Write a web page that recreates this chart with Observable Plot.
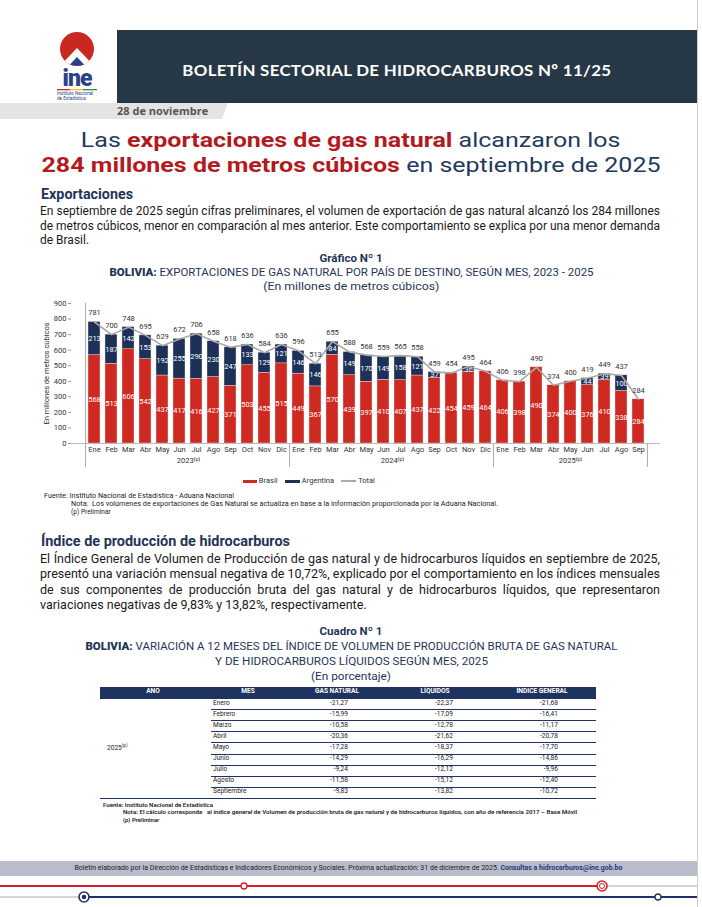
<!DOCTYPE html>
<html><head><meta charset="utf-8">
<script src="https://cdn.jsdelivr.net/npm/d3@7"></script>
<script src="https://cdn.jsdelivr.net/npm/@observablehq/plot@0.6"></script>
<style>
body{margin:0;background:#fff;}
#page{position:relative;width:702px;height:907px;overflow:hidden;font-family:Roboto,"Noto Sans",sans-serif;color:#1e1e1e;}
.a{position:absolute;}
.nw{white-space:nowrap;}
.fit{display:inline-block;white-space:nowrap;}
.navy{color:#1f3557;}
.red{color:#b21a1d;font-weight:700;}
.para{position:absolute;left:40px;transform-origin:0 0;}
.para div{white-space:nowrap;text-align:justify;text-align-last:justify;}
.para div.last{text-align-last:left;}
.ctr{position:absolute;left:0;width:702px;text-align:center;}
.sw{display:inline-block;vertical-align:middle;}
</style></head><body><div id="page">

<!-- header band -->
<div class="a" style="left:117px;top:30px;width:580px;height:73px;background:#263746"></div>
<div class="a" style="left:697px;top:0;width:1px;height:907px;background:#cfcfcf"></div>
<div class="a" style="left:117px;top:60px;width:560px;text-align:center;color:#fff;font:700 16px Lato,sans-serif;letter-spacing:.3px"><span class="fit" id="bt" style="transform-origin:50% 50%">BOLETÍN SECTORIAL DE HIDROCARBUROS Nº 11/25</span></div>

<!-- logo -->
<svg class="a" style="left:50px;top:31px" width="56" height="72" viewBox="0 0 56 72">
  <defs><clipPath id="dome"><circle cx="27" cy="18" r="17"/></clipPath></defs>
  <g clip-path="url(#dome)">
    <rect x="0" y="0" width="56" height="40" fill="#c9281e"/>
    <polygon points="3,42 27,17 51,42" fill="#ffffff"/>
    <polygon points="12,42 27,26 42,42" fill="#2b4286"/>
  </g>
  <text x="27" y="55" text-anchor="middle" font-family="Roboto" font-weight="900" font-size="23" fill="#2b4286" letter-spacing="-1">ine</text>
  <rect x="7" y="58" width="13" height="1.3" fill="#d42a20"/><rect x="20" y="58" width="13" height="1.3" fill="#f2c500"/><rect x="33" y="58" width="14" height="1.3" fill="#1e9a3a"/>
  <text x="7" y="64" font-family="Roboto" font-size="4.6" fill="#2b4286">Instituto Nacional</text>
  <text x="7" y="69" font-family="Roboto" font-size="4.6" fill="#2b4286">de Estadística</text>
</svg>

<!-- date tab -->
<div class="a" style="left:0;top:103px;width:228px;height:16px;background:#e4e4e4;clip-path:polygon(0 0,100% 0,calc(100% - 6px) 100%,0 100%)"></div>
<div class="a nw" style="left:117px;top:103px;font:700 11px 'Open Sans',sans-serif;color:#555;line-height:16px">28 de noviembre</div>

<!-- headline -->
<div class="ctr" style="top:128px;font:400 21px Roboto,sans-serif;line-height:25px;color:#233a5e">
  <div><span class="fit" id="h1" style="transform-origin:50% 50%">Las <span class="red">exportaciones de gas natural</span> alcanzaron los</span></div>
  <div><span class="fit" id="h2" style="transform-origin:50% 50%"><span class="red">284 millones de metros cúbicos</span> en septiembre de 2025</span></div>
</div>

<!-- Exportaciones -->
<div class="a nw navy" style="left:41px;top:185px;font:700 14px Roboto,sans-serif;line-height:18px"><span class="fit" id="ex" style="transform-origin:0 50%">Exportaciones</span></div>
<div class="para" id="p1" style="top:204px;font:400 12.5px Roboto,sans-serif;line-height:14.6px;color:#1a1a1a">
  <div>En septiembre de 2025 según cifras preliminares, el volumen de exportación de gas natural alcanzó los 284 millones</div>
  <div>de metros cúbicos, menor en comparación al mes anterior. Este comportamiento se explica por una menor demanda</div>
  <div class="last">de Brasil.</div>
</div>

<!-- chart titles -->
<div class="ctr navy" style="top:251px;font:700 11.5px Roboto,sans-serif;line-height:14px">
  <div>Gráfico Nº 1</div>
  <div><span class="fit" id="ct" style="transform-origin:50% 50%"><b>BOLIVIA:</b> <span style="font-weight:400">EXPORTACIONES DE GAS NATURAL POR PAÍS DE DESTINO, SEGÚN MES, 2023 - 2025</span></span></div>
  <div style="font-weight:400"><span class="fit" id="cu" style="transform-origin:50% 50%">(En millones de metros cúbicos)</span></div>
</div>

<div class="a" id="chart" style="left:0;top:295px;width:702px;height:175px"></div>

<!-- legend -->
<div class="a nw" id="legend" style="left:243px;top:476px;font:400 7.5px Roboto,sans-serif;color:#333;line-height:10px"></div>

<!-- chart notes -->
<div class="a nw" style="left:44px;top:492px;font:400 6.6px Roboto,sans-serif;line-height:8px;color:#222">
  <div><span class="fit" id="n1" style="transform-origin:0 50%">Fuente: Instituto Nacional de Estadística - Aduana Nacional</span></div>
  <div style="padding-left:27px"><span class="fit" id="n2" style="transform-origin:0 50%">Nota:&nbsp; Los volúmenes de exportaciones de Gas Natural se actualiza en base a la información proporcionada por la Aduana Nacional.</span></div>
  <div style="padding-left:27px">(p) Preliminar</div>
</div>

<!-- Índice -->
<div class="a nw navy" style="left:41px;top:532px;font:700 14px Roboto,sans-serif;line-height:18px"><span class="fit" id="ix" style="transform-origin:0 50%">Índice de producción de hidrocarburos</span></div>
<div class="para" id="p2" style="top:551px;font:400 13px Roboto,sans-serif;line-height:15.3px;color:#1a1a1a">
  <div>El Índice General de Volumen de Producción de gas natural y de hidrocarburos líquidos en septiembre de 2025,</div>
  <div>presentó una variación mensual negativa de 10,72%, explicado por el comportamiento en los índices mensuales</div>
  <div>de sus componentes de producción bruta del gas natural y de hidrocarburos líquidos, que representaron</div>
  <div class="last">variaciones negativas de 9,83% y 13,82%, respectivamente.</div>
</div>

<!-- Cuadro titles -->
<div class="ctr navy" style="top:624px;font:700 11.5px Roboto,sans-serif;line-height:15px">
  <div>Cuadro Nº 1</div>
  <div><span class="fit" id="q1" style="transform-origin:50% 50%"><b>BOLIVIA:</b> <span style="font-weight:400">VARIACIÓN A 12 MESES DEL ÍNDICE DE VOLUMEN DE PRODUCCIÓN BRUTA DE GAS NATURAL</span></span></div>
  <div style="font-weight:400"><span class="fit" id="q2" style="transform-origin:50% 50%">Y DE HIDROCARBUROS LÍQUIDOS SEGÚN MES, 2025</span></div>
  <div style="font-weight:400"><span class="fit" id="q3" style="transform-origin:50% 50%">(En porcentaje)</span></div>
</div>

<div class="a" id="tabla" style="left:0;top:0;width:702px;height:907px;pointer-events:none"></div>

<!-- table notes -->
<div class="a nw" style="left:103px;top:802px;font:600 5.9px Roboto,sans-serif;line-height:7.3px;color:#222">
  <div><span class="fit" id="t1" style="transform-origin:0 50%">Fuente: Instituto Nacional de Estadística</span></div>
  <div style="padding-left:20px"><span class="fit" id="t2" style="transform-origin:0 50%">Nota: El cálculo corresponde &nbsp; al índice general de Volumen de producción bruta de gas natural y de hidrocarburos líquidos, con año de referencia 2017 – Base Móvil</span></div>
  <div style="padding-left:20px">(p) Preliminar</div>
</div>

<!-- footer -->
<div class="a" style="left:0;top:861px;width:697px;height:15px;background:#b9bccb"></div>
<div class="ctr" style="top:861px;width:697px;font:400 6.7px Roboto,sans-serif;line-height:15px;color:#222"><span class="fit" id="ft" style="transform-origin:50% 50%">Boletín elaborado por la Dirección de Estadísticas e Indicadores Económicos y Sociales. Próxima actualización: 31 de diciembre de 2025. <b style="color:#1f3a7a">Consultas a hidrocarburos@ine.gob.bo</b></span></div>
<svg class="a" style="left:0;top:878px" width="702" height="29">
  <line x1="0" y1="8" x2="600" y2="8" stroke="#d3202a" stroke-width="2"/>
  <line x1="604" y1="8" x2="697" y2="8" stroke="#d6d6d6" stroke-width="2"/>
  <circle cx="244" cy="8" r="3" fill="#fff" stroke="#d3202a" stroke-width="1.3"/>
  <circle cx="602" cy="8" r="5" fill="#fff" stroke="#d3202a" stroke-width="1.6"/>
  <circle cx="602" cy="8" r="2.5" fill="none" stroke="#d3202a" stroke-width="1"/>
  <line x1="0" y1="19" x2="80" y2="19" stroke="#d6d6d6" stroke-width="2"/>
  <line x1="88" y1="19" x2="697" y2="19" stroke="#22306a" stroke-width="2"/>
  <circle cx="84" cy="19" r="5" fill="#fff" stroke="#22306a" stroke-width="1.6"/>
  <circle cx="84" cy="19" r="2.3" fill="#22306a"/>
  <circle cx="658" cy="19" r="3" fill="#fff" stroke="#22306a" stroke-width="1.3"/>
</svg>

</div>
<script>
// ---------- Chart data ----------
const meses = ["Ene","Feb","Mar","Abr","May","Jun","Jul","Ago","Sep","Oct","Nov","Dic"];
const anios = ["2023","2024","2025"];
const brasil2023 = [568,513,606,542,437,417,416,427,371,503,455,515];
const argentina2023 = [213,187,142,153,192,255,290,230,247,133,129,121];
const total2023 = [781,700,748,695,629,672,706,658,618,636,584,636];
const brasil2024 = [449,367,570,439,397,410,407,437,422,454,459,464];
const argentina2024 = [146,146,84,149,170,149,158,121,37,0,36,0];
const total2024 = [596,513,655,588,568,559,565,558,459,454,495,464];
const brasil2025 = [406,398,490,374,400,376,410,338,284];
const argentina2025 = [0,0,0,0,0,44,39,100,0];
const total2025 = [406,398,490,374,400,419,449,437,284];
const yTicks = [0,100,200,300,400,500,600,700,800,900];
const paises = ["Brasil","Argentina"];
const colores = ["#cf2a22","#1c3058"];

// ---------- Table data ----------
const mesesTabla = ["Enero","Febrero","Marzo","Abril","Mayo","Junio","Julio","Agosto","Septiembre"];
const gasNatural = [-21.27,-15.99,-10.58,-20.36,-17.28,-14.29,-9.24,-11.58,-9.83];
const liquidos = [-22.37,-17.09,-12.78,-21.62,-18.37,-16.29,-12.12,-15.12,-13.82];
const indiceGeneral = [-21.68,-16.41,-11.17,-20.78,-17.70,-14.86,-9.96,-12.40,-10.72];
const encabezados = ["AÑO","MES","GAS NATURAL","LÍQUIDOS","ÍNDICE GENERAL"];

// build rows
const keys = [], rows = [];
[[anios[0],brasil2023,argentina2023,total2023],[anios[1],brasil2024,argentina2024,total2024],[anios[2],brasil2025,argentina2025,total2025]]
 .forEach(([yr,b,a,t]) => b.forEach((v,i) => {
   const key = yr + "-" + meses[i];
   keys.push(key);
   rows.push({key, brasil:v, argentina:a[i], total:t[i]});
 }));
const long = rows.flatMap(r => [{key:r.key,pais:paises[0],v:r.brasil},{key:r.key,pais:paises[1],v:r.argentina}]);
const W = 702, ML = 71, MR = 42, PI = 0.3, PO = 0.15;
const step = (W - ML - MR) / (keys.length - PI + 2*PO);
const yearStarts = anios.map(y => y + "-Ene");
const yearLab = [{key:"2023-Jun",t:"2023⁽ᵖ⁾"},{key:"2024-Jun",t:"2024⁽ᵖ⁾"}];
const yearLab2 = [{key:"2025-May",t:"2025⁽ᵖ⁾"}];

const chart = Plot.plot({
  width: W, height: 175, marginLeft: ML, marginRight: MR, marginTop: 8, marginBottom: 27,
  style: {fontFamily:"Roboto, sans-serif", fontSize:"7.5px", color:"#333", background:"transparent", overflow:"visible"},
  x: {type:"band", domain: keys, paddingInner: PI, paddingOuter: PO, label: null},
  y: {domain:[0,900], label: null},
  color: {domain: paises, range: colores},
  marks: [
    Plot.barY(long, {x:"key", y:"v", fill:"pais", stroke:"#f0dede", strokeWidth:0.4}),
    Plot.text(long.filter(d => d.v > 0), Plot.stackY({x:"key", y:"v", z:"pais", text:"v", fill:"#fff"})),
    Plot.line(rows, {x:"key", y:"total", stroke:"#a9a9a9", strokeWidth:1.6}),
    Plot.text(rows, {x:"key", y:"total", text:"total", dy:-9, fill:"#333"}),
    Plot.ruleY([0], {stroke:"#bdbdbd"}),
    Plot.axisY({ticks: yTicks, tickSize: 3, tickPadding: 2, label: null, stroke:"#999"}),
    Plot.axisX({tickSize: 0, tickPadding: 3, tickFormat: k => k.slice(5), label: null}),
    Plot.ruleX([keys[0]], {x: d => d, dx: -step/2, y1: 0, y2: 900, stroke:"#aaa"}),
    Plot.ruleX(yearStarts, {x: d => d, dx: -step/2, y1: 0, y2: 0, insetBottom: -24, stroke:"#aaa"}),
    Plot.ruleX([keys[keys.length-1]], {x: d => d, dx: step/2, y1: 0, y2: 0, insetBottom: -24, stroke:"#aaa"}),
    Plot.text(yearLab, {x:"key", y: 0, text:"t", dx: step/2, dy: 17, fill:"#333"}),
    Plot.text(yearLab2, {x:"key", y: 0, text:"t", dy: 17, fill:"#333"}),
    Plot.text(["En millones de metros cúbicos"], {frameAnchor:"left", textAnchor:"middle", rotate:-90, dx:-25, fill:"#333"})
  ]
});
document.getElementById("chart").appendChild(chart);

// legend
const lg = document.getElementById("legend");
lg.innerHTML =
  `<span class="sw" style="width:14px;height:3px;background:${colores[0]}"></span> ${paises[0]}&nbsp;&nbsp;&nbsp;&nbsp;` +
  `<span class="sw" style="width:15px;height:3px;background:${colores[1]}"></span> ${paises[1]}&nbsp;&nbsp;&nbsp;&nbsp;` +
  `<span class="sw" style="width:15px;height:1.3px;background:#a9a9a9"></span> Total`;

// table
const fmt = v => v.toFixed(2).replace(".", ",");
const tb = document.getElementById("tabla");
const TL = 100, TR = 596, TOP = 687, HH = 11.5, RH = 11.1;
const colCenters = [153, 248, 337, 435, 542];
const valRight = [348, 453, 558];
let html = `<div class="a" style="left:${TL}px;top:${TOP}px;width:${TR-TL}px;height:${HH}px;background:#1e3360"></div>`;
encabezados.forEach((h,i) => {
  html += `<div class="a nw" style="left:${colCenters[i]-60}px;width:120px;text-align:center;top:${TOP}px;line-height:${HH}px;font:700 6.6px Roboto,sans-serif;color:#fff">${h}</div>`;
});
mesesTabla.forEach((m,i) => {
  const top = TOP + HH + i*RH;
  html += `<div class="a nw" style="left:213px;top:${top}px;line-height:${RH}px;font:400 6.6px Roboto,sans-serif;color:#222">${m}</div>`;
  [gasNatural[i], liquidos[i], indiceGeneral[i]].forEach((v,j) => {
    html += `<div class="a nw" style="left:${valRight[j]-60}px;width:60px;text-align:right;top:${top}px;line-height:${RH}px;font:400 6.6px Roboto,sans-serif;color:#222">${fmt(v)}</div>`;
  });
  if (i < mesesTabla.length - 1)
    html += `<div class="a" style="left:211px;top:${top+RH-0.5}px;width:${TR-211}px;height:0.8px;background:#1e3360"></div>`;
});
const bottom = TOP + HH + mesesTabla.length*RH;
html += `<div class="a" style="left:${TL}px;top:${bottom-0.5}px;width:${TR-TL}px;height:1.6px;background:#1e3360"></div>`;
html += `<div class="a nw" style="left:107px;top:${(TOP+HH+bottom)/2-5}px;line-height:10px;font:400 6.6px Roboto,sans-serif;color:#222">${anios[2]}<sup style="font-size:4.5px">(p)</sup></div>`;
tb.innerHTML = html;

// ---------- text fitting ----------
function fit(id, target) {
  const el = document.getElementById(id);
  const w = el.getBoundingClientRect().width;
  el.style.transform = `scaleX(${target / w})`;
  return target / w;
}
const s = fit("h2", 619);
document.getElementById("h1").style.transform = `scaleX(${s})`;
fit("bt", 429);
fit("ex", 92);
fit("ix", 249);
fit("ct", 484);
fit("cu", 176);
fit("q1", 532);
fit("q2", 273);
fit("q3", 80);
fit("n1", 190);
fit("n2", 427);
fit("t1", 110);
fit("t2", 454);
fit("ft", 548);
function fitPara(id, target) {
  const p = document.getElementById(id);
  const lines = [...p.children];
  lines.forEach(l => { l.style.display = "inline-block"; l.style.textAlignLast = "left"; });
  const maxw = Math.max(...lines.map(l => l.getBoundingClientRect().width));
  lines.forEach(l => { l.style.display = "block"; l.style.textAlignLast = ""; });
  const sc = target / maxw;
  p.style.width = maxw + "px";
  p.style.transform = `scaleX(${sc})`;
}
fitPara("p1", 620);
fitPara("p2", 620);
</script>
</body></html>
